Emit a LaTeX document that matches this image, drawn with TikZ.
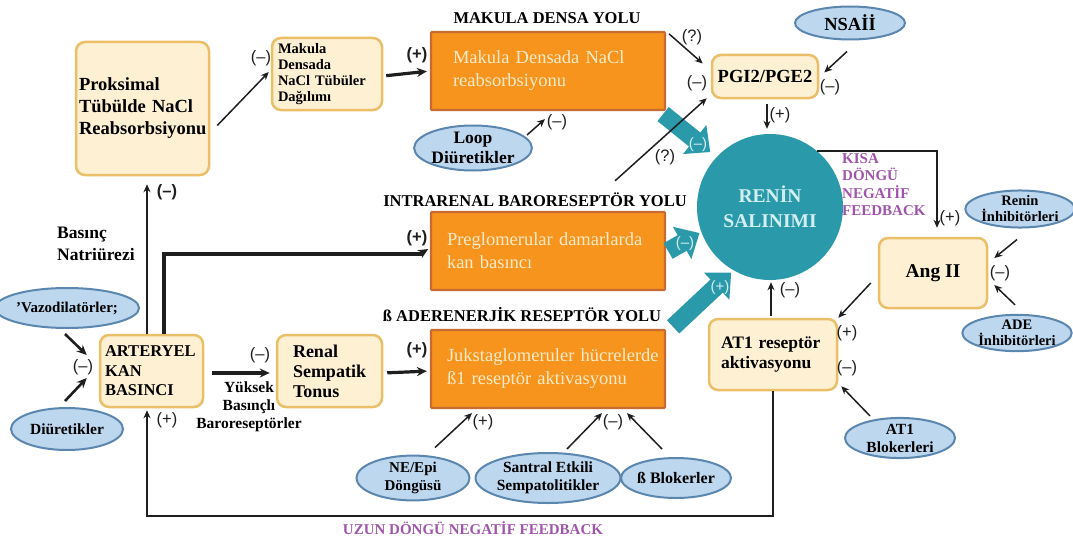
\documentclass[tikz,border=0pt]{standalone}
\usepackage{fontspec}
\setmainfont{Liberation Serif}
\newfontfamily\signfont{Liberation Sans}
\usetikzlibrary{arrows.meta,shapes.geometric}

\newcommand{\setfs}[2]{\fontsize{#1}{#2}\selectfont}

\definecolor{creamfill}{HTML}{FEF0D3}
\definecolor{creamline}{HTML}{EBBE68}
\definecolor{orangefill}{HTML}{F7941E}
\definecolor{orangeline}{HTML}{C76B33}
\definecolor{orangetext}{HTML}{FCEBC9}
\definecolor{ellfill}{HTML}{BDD7EE}
\definecolor{ellline}{HTML}{5B86AE}
\definecolor{tealc}{HTML}{2A9AAA}
\definecolor{teallabel}{HTML}{D4EFF2}
\definecolor{purp}{HTML}{A154AC}
\definecolor{linec}{HTML}{1E1E1E}

\begin{document}
\begin{tikzpicture}[x=1pt,y=-1pt,
  cbox/.style={draw=creamline, fill=creamfill, line width=2.5pt, rounded corners=9pt,
    align=left, inner sep=0pt, font=\bfseries},
  obox/.style={draw=orangeline, fill=orangefill, line width=2.2pt, rounded corners=1pt,
    minimum width=234pt, minimum height=78pt, inner sep=0pt, align=left,
    text=orangetext, font=\setfs{18.5}{23}},
  ell/.style={ellipse, draw=ellline, fill=ellfill, line width=2pt, inner sep=0pt,
    align=center, font=\bfseries\setfs{15}{17}},
  ttl/.style={font=\bfseries\setfs{16.5}{20}, inner sep=0pt},
  lbl/.style={font=\bfseries\setfs{15.5}{18}, inner sep=0pt},
  pur/.style={text=purp, font=\bfseries\setfs{15}{17.5}, inner sep=0pt},
  sg/.style={font=\signfont\setfs{16.5}{18}, inner sep=0pt, text=linec},
  sgb/.style={font=\signfont\bfseries\setfs{16.5}{18}, inner sep=0pt, text=linec},
  tsg/.style={font=\signfont\setfs{15}{16}, inner sep=0pt, text=teallabel},
  arr/.style={draw=linec, line width=1.5pt, -{Stealth[length=8pt,width=7pt]}},
  thk/.style={draw=linec, line width=3.2pt, -{Stealth[length=10pt,width=9pt]}},
  blk/.style={draw=tealc, line width=18pt, -{Triangle[length=20pt,width=36pt]}}
]
\useasboundingbox (0,0) rectangle (1073,543);

% ---------- boxes ----------
\node[cbox, minimum width=133pt, minimum height=133pt, text width=127pt,
  font=\bfseries\setfs{18.5}{22}] (prok) at (142.5,108.5)
  {Proksimal\\Tübülde NaCl\\Reabsorbsiyonu};
\node[cbox, minimum width=110pt, minimum height=72pt, text width=98pt,
  font=\bfseries\setfs{14.5}{16}] (mks) at (327,74)
  {Makula\\Densada\\NaCl Tübüler\\Dağılımı};
\node[cbox, minimum width=103pt, minimum height=72pt, text width=93pt,
  font=\bfseries\setfs{16.5}{19.5}] (art) at (151.5,371)
  {ARTERYEL\\KAN\\BASINCI};
\node[cbox, minimum width=105pt, minimum height=72pt, text width=73pt,
  font=\bfseries\setfs{18}{20}] (renal) at (329.5,371)
  {Renal\\Sempatik\\Tonus};
\node[cbox, minimum width=106pt, minimum height=43pt, align=center,
  font=\bfseries\setfs{18.5}{20}] (pgi) at (765,76.5) {PGI2/PGE2};
\node[cbox, minimum width=108pt, minimum height=70pt, align=center,
  font=\bfseries\setfs{19.5}{22}] (angii) at (933,273) {Ang II};
\node[cbox, minimum width=128pt, minimum height=71pt, text width=104pt,
  font=\bfseries\setfs{17.5}{20}] (at1) at (773,354.5)
  {AT1 reseptör\\aktivasyonu};

% pathway boxes
\node[obox, text width=190pt] (md) at (548,71) {Makula Densada NaCl\\reabsorbsiyonu};
\node[obox, text width=202pt] (pregl) at (548,251) {Preglomerular damarlarda\\kan basıncı};
\node[obox, text width=202pt] (beta) at (548,369)
  {\hbox{Jukstaglomeruler hücrelerde}\\ß1 reseptör aktivasyonu};

\node[ttl] (t1) at (547,18) {MAKULA DENSA YOLU};
\node[ttl] (t2) at (535,200) {INTRARENAL BARORESEPTÖR YOLU};
\node[ttl] (t3) at (522,315) {ß ADERENERJİK RESEPTÖR YOLU};

% renin release
\node[circle, fill=tealc, minimum size=146pt, inner sep=0pt, align=center,
  text=teallabel, font=\bfseries\setfs{19.5}{25}] (ren) at (770,207) {RENİN\\SALINIMI};

% ---------- drug ellipses ----------
\node[ell, minimum width=110pt, minimum height=33pt, font=\bfseries\setfs{18.5}{20}] (nsaii) at (850,23) {NSAİİ};
\node[ell, minimum width=95pt, minimum height=45pt, font=\bfseries\setfs{17.5}{20}] (loop) at (473,148) {Loop\\Diüretikler};
\node[ell, minimum width=107pt, minimum height=35pt, font=\bfseries\setfs{14.5}{16}] (reninh) at (1020,209) {Renin\\İnhibitörleri};
\node[ell, minimum width=108pt, minimum height=33pt, font=\bfseries\setfs{14.5}{16}] (ade) at (1017,333) {ADE\\İnhibitörleri};
\node[ell, minimum width=110pt, minimum height=40pt, font=\bfseries\setfs{15.5}{18}] (at1blk) at (900,438) {AT1\\Blokerleri};
\node[ell, minimum width=113pt, minimum height=40pt, font=\bfseries\setfs{15}{17}] (vazo) at (67,308) {'Vazodilatörler;};
\node[ell, minimum width=112pt, minimum height=42pt, font=\bfseries\setfs{15.5}{17}] (diur) at (67,429) {Diüretikler};
\node[ell, minimum width=113pt, minimum height=42pt, font=\bfseries\setfs{15}{18}] (neepi) at (413,478) {NE/Epi\\Döngüsü};
\node[ell, minimum width=140pt, minimum height=50pt, font=\bfseries\setfs{15.5}{18}] (santral) at (548,478) {Santral Etkili\\Sempatolitikler};
\node[ell, minimum width=108pt, minimum height=40pt, font=\bfseries\setfs{16}{18}] (bblok) at (676,478) {ß Blokerler};

% ---------- free labels ----------
\node[lbl, align=left, anchor=west, font=\bfseries\setfs{17.5}{22}] (natri) at (57,244) {Basınç\\Natriürezi};
\node[lbl, align=center] (baro) at (249,407) {Yüksek\\Basınçlı\\Baroreseptörler};
\node[pur, align=left, anchor=west] (kisa) at (842,184.5) {KISA\\DÖNGÜ\\NEGATİF\\FEEDBACK};
\node[pur] (uzun) at (473,528) {UZUN DÖNGÜ NEGATİF FEEDBACK};

% ---------- block arrows into renin release ----------
\draw[blk, shorten >=8pt] ([shift={(-3,3)}]md.south east) -- (ren.137);
\draw[blk, shorten >=2pt] ([shift={(2,0)}]pregl.east) -- (ren.200);
\draw[blk, shorten >=3pt] ([shift={(7,-2)}]beta.north east) -- (ren.240);
\node[tsg] at (698,145) {(–)};
\node[tsg] at (685,244) {(–)};
\node[tsg] at (720,288) {(+)};

% ---------- connectors ----------
\draw[arr] ([shift={(7,17)}]prok.east) -- ([shift={(-2,-2)}]mks.west);
\draw[thk, shorten <=3pt, shorten >=3pt] ([yshift=-2]mks.east) -- (md.west);
\draw[arr] ([shift={(54,-13)}]loop.center) -- ([shift={(-3,8)}]md.south);
\draw[arr] ([shift={(3,3)}]md.north east) -- ([shift={(-8,-13)}]pgi.west);
\draw[arr] ([shift={(80,-12)}]t2.north) -- ([shift={(-4,-1)}]pgi.south west);
\draw[arr] ([shift={(-3,11)}]nsaii.south) -- ([shift={(5,-4)}]pgi.east);
\draw[arr, shorten <=5pt, shorten >=5pt] ([xshift=2]pgi.south) -- ([xshift=2]pgi.south |- ren.north);
\draw[arr, shorten >=9pt] (ren.50) -| ([xshift=4]angii.north);
\draw[arr] ([shift={(-3,11)}]reninh.south) -- ([shift={(6,-15)}]angii.east);
\draw[arr] ([shift={(-2,-9)}]ade.north) -- ([shift={(6,12)}]angii.east);
\draw[arr] ([shift={(-7,10)}]angii.west) -- (at1.north east);
\draw[arr] ([shift={(-30,-1)}]at1blk.north) -- ([shift={(3,-5)}]at1.south east);
\draw[arr, shorten <=2pt, shorten >=2pt] ([xshift=-2]at1.north) -- ([xshift=-2]at1.north |- ren.south);
\draw[arr, line width=1.8pt, shorten >=2pt] (at1.south) -- ++(0,125) -| ([xshift=-4.5]art.south);

\draw[thk, line width=2.6pt] ([shift={(-2,5)}]vazo.south) -- ([shift={(-12,-16)}]art.west);
\draw[thk, line width=2.6pt] ([shift={(-2,-6)}]diur.north) -- ([shift={(-12,7)}]art.west);
\draw[arr, line width=2pt, shorten >=8pt] ([xshift=-4.5]art.north) -- ([xshift=-4.5]art.north |- prok.south);
\draw[thk, -, line width=3.5pt] ([xshift=12.5]art.north) |- ([shift={(-8,3)}]pregl.west);
\draw[thk, shorten >=2pt] ([shift={(-10,3)}]pregl.west) -- ([yshift=3]pregl.west);
\draw[thk, shorten <=8pt, shorten >=6pt] ([yshift=-2]art.east) -- ([yshift=-2]renal.west);
\draw[thk, shorten <=4pt, shorten >=3pt] ([yshift=-2]renal.east) -- ([yshift=-2]beta.west);

\draw[arr] ([shift={(22,-7)}]neepi.north) -- ([shift={(-76,4)}]beta.south);
\draw[arr] ([shift={(19,-3)}]santral.north) -- ([shift={(54,4)}]beta.south);
\draw[arr] ([shift={(-14,-8)}]bblok.north) -- ([shift={(79,4)}]beta.south);

% ---------- signs ----------
\node[sg] at (261,58) {(–)};
\node[sgb] at (417,55) {(+)};
\node[sg] at (557,122) {(–)};
\node[sg] at (692,37) {(?)};
\node[sg] at (697,83) {(–)};
\node[sg] at (665,157) {(?)};
\node[sg] at (830,87) {(–)};
\node[sg] at (780,115) {(+)};
\node[sg] at (950,218) {(+)};
\node[sg] at (1000,273) {(–)};
\node[sg] at (847,333) {(+)};
\node[sg] at (847,368) {(–)};
\node[sg] at (790,290) {(–)};
\node[sg] at (167,420) {(+)};
\node[sg] at (83,367) {(–)};
\node[sgb] at (167,192) {(–)};
\node[sgb] at (417,238) {(+)};
\node[sg] at (260,355) {(–)};
\node[sgb] at (417,350) {(+)};
\node[sg] at (483,422) {(+)};
\node[sg] at (613,422) {(–)};

\end{tikzpicture}
\end{document}
